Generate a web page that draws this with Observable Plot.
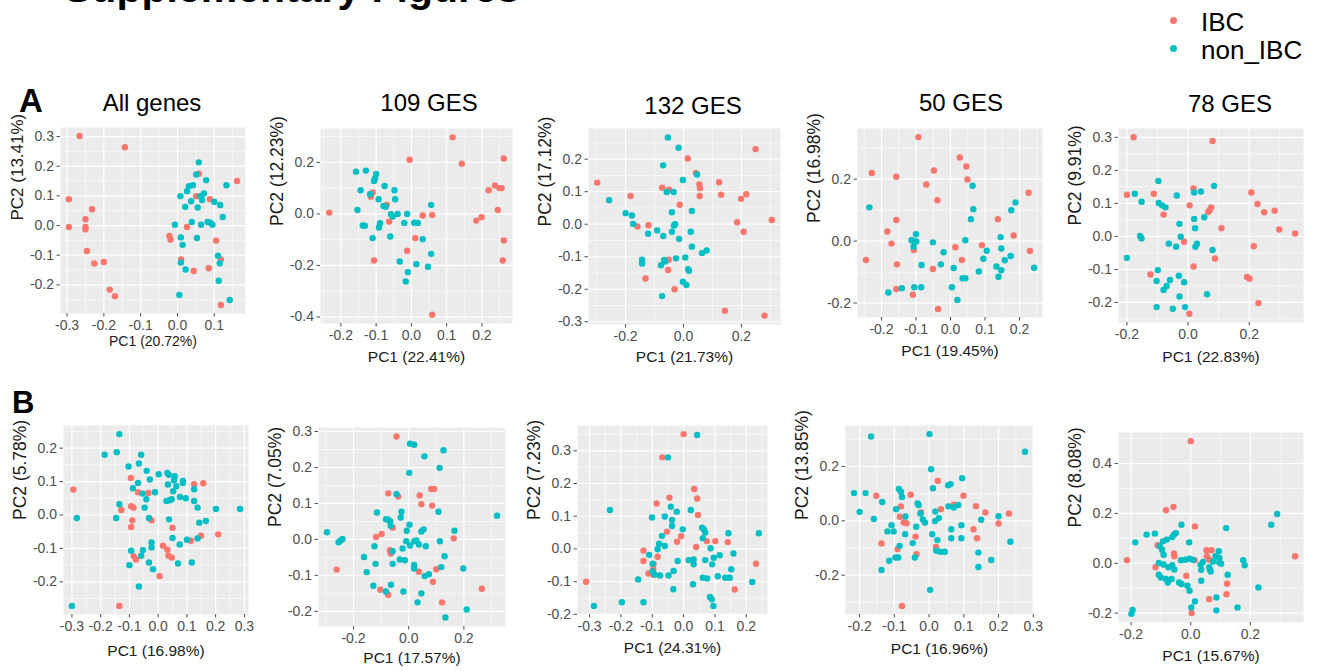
<!DOCTYPE html>
<html>
<head>
<meta charset="utf-8">
<script src="https://cdn.jsdelivr.net/npm/d3@7"></script>
<script src="https://cdn.jsdelivr.net/npm/@observablehq/plot@0.6"></script>
<style>
  html, body { margin: 0; padding: 0; background: #fff; }
  #page { position: relative; width: 1317px; height: 671px; overflow: hidden; font-family: 'Liberation Sans', Arial, sans-serif; }
  .abs { position: absolute; white-space: nowrap; line-height: 1; }
</style>
</head>
<body>
<div id="page"></div>
<script>
// ---------------- DATA (PC1, PC2) ----------------
const groups = ["IBC", "non_IBC"];

const A1_IBC = [[-0.266,0.302],[-0.143,0.264],[-0.295,0.089],[-0.232,0.055],[-0.295,-0.005],[-0.25,0.021],[-0.25,-0.005],[-0.25,-0.013],[-0.246,-0.086],[-0.226,-0.128],[-0.2,-0.123],[-0.184,-0.216],[-0.17,-0.238],[-0.022,-0.035],[-0.019,-0.047],[0.026,-0.005],[0.058,0.175],[0.051,0.099],[0.088,0.089],[0.01,-0.114],[0.044,-0.153],[0.085,-0.144],[0.105,-0.051],[0.118,-0.114],[0.118,-0.268],[0.162,0.15]];
const A1_non = [[0.058,0.213],[0.051,0.172],[0.078,0.153],[0.042,0.136],[0.031,0.133],[0.133,0.136],[0.008,0.099],[0.026,0.116],[0.072,0.108],[0.062,0.099],[0.037,0.082],[0.021,0.063],[0.055,0.061],[0.067,0.086],[0.1,0.08],[0.116,0.069],[0.123,0.029],[-0.007,0.003],[0.039,0.012],[0.064,0.003],[0.082,0.012],[0.089,0.01],[0.095,0.003],[0.053,-0.042],[0.009,-0.04],[0.014,-0.065],[0.11,-0.102],[0.009,-0.125],[0.022,-0.148],[0.115,-0.127],[0.112,-0.186],[0.005,-0.234],[0.142,-0.251]];

const A2_IBC = [[-0.233,0.005],[0.117,0.297],[0.143,0.195],[0.262,0.215],[-0.005,0.21],[-0.11,0.083],[-0.115,0.067],[-0.07,0.035],[-0.063,-0.03],[0.032,-0.006],[0.059,-0.004],[0.011,-0.094],[-0.012,-0.143],[-0.106,-0.181],[0.059,-0.391],[0.237,0.11],[0.219,0.092],[0.25,0.1],[0.256,0.1],[0.245,0.015],[0.184,-0.026],[0.199,-0.013],[0.262,-0.103],[0.259,-0.181]];
const A2_non = [[-0.157,0.164],[-0.129,0.168],[-0.1,0.155],[-0.103,0.138],[-0.106,0.128],[-0.144,0.092],[-0.117,0.076],[-0.076,0.108],[-0.048,0.092],[-0.093,0.057],[-0.046,0.057],[-0.079,0.031],[-0.073,0.028],[-0.153,0.015],[-0.058,-0.001],[-0.053,-0.01],[-0.039,0],[-0.012,0],[0.056,0.035],[-0.138,-0.045],[-0.132,-0.046],[-0.089,-0.036],[-0.092,-0.053],[-0.02,-0.035],[0.008,-0.034],[0.018,-0.035],[-0.06,-0.088],[-0.11,-0.094],[0.032,-0.098],[0.056,-0.155],[-0.033,-0.185],[0.014,-0.195],[0.047,-0.205],[-0.01,-0.226],[-0.016,-0.262]];

const A3_IBC = [[-0.298,0.128],[-0.183,0.087],[-0.159,-0.007],[-0.121,-0.003],[-0.131,-0.167],[-0.074,0.112],[-0.05,0.106],[-0.013,0.06],[-0.051,-0.109],[-0.053,-0.141],[-0.031,-0.2],[0.015,0.202],[0.043,0.158],[0.055,0.122],[0.057,0.111],[0.056,0.087],[0.123,0.129],[0.13,0.091],[0.249,0.231],[0.217,0.092],[0.199,0.078],[0.185,0.006],[0.208,-0.023],[0.305,0.013],[0.143,-0.266],[0.28,-0.281]];
const A3_non = [[-0.054,0.267],[-0.017,0.235],[-0.07,0.181],[-0.002,0.136],[0.047,0.153],[-0.257,0.074],[-0.058,0.099],[-0.034,0.099],[-0.2,0.034],[-0.178,0.027],[-0.174,0.001],[-0.122,-0.029],[-0.091,-0.019],[-0.07,-0.036],[-0.04,0.037],[0.029,0.041],[-0.033,-0.004],[-0.029,0],[-0.04,-0.023],[-0.015,-0.045],[0.025,-0.023],[0.029,-0.069],[-0.143,-0.109],[-0.143,-0.121],[-0.067,-0.11],[-0.078,-0.126],[-0.063,-0.115],[-0.026,-0.105],[0.006,-0.102],[0.016,-0.138],[0.019,-0.143],[0.064,-0.089],[0.08,-0.081],[-0.002,-0.177],[0.01,-0.187],[-0.074,-0.221]];

const A4_IBC = [[-0.093,0.336],[-0.228,0.22],[-0.157,0.208],[-0.048,0.228],[-0.07,0.183],[-0.038,0.132],[0.027,0.27],[0.046,0.241],[0.049,0.199],[-0.157,0.068],[-0.183,0.031],[-0.171,-0.008],[-0.245,-0.061],[-0.155,-0.075],[-0.157,-0.155],[-0.106,-0.029],[-0.109,-0.173],[-0.051,-0.09],[-0.036,-0.219],[0.014,-0.02],[0.033,-0.061],[0.091,-0.013],[0.137,0.071],[0.183,0.018],[0.226,0.156],[0.23,-0.032]];
const A4_non = [[-0.235,0.109],[0.064,0.179],[0.066,0.103],[0.059,0.071],[0.176,0.1],[0.188,0.125],[-0.1,0.022],[-0.113,0.003],[-0.105,-0.001],[-0.099,-0.001],[-0.107,-0.018],[-0.051,-0.004],[0.043,0.003],[-0.02,-0.036],[-0.028,-0.075],[-0.084,-0.077],[0.009,-0.087],[-0.085,-0.149],[-0.141,-0.152],[-0.18,-0.166],[-0.105,-0.149],[0.004,-0.149],[0.02,-0.19],[0.035,-0.12],[0.043,-0.12],[0.082,-0.098],[0.095,-0.057],[0.105,-0.031],[0.145,0.013],[0.147,-0.024],[0.133,-0.082],[0.139,-0.115],[0.147,-0.094],[0.157,-0.062],[0.174,-0.048],[0.242,-0.086]];

const A5_IBC = [[-0.178,0.3],[0.08,0.289],[-0.2,0.126],[-0.112,0.129],[-0.08,0.066],[0.018,0.145],[0.005,0.094],[0.076,0.088],[0.071,0.08],[0.066,0.074],[0.109,0.025],[-0.013,-0.016],[0.088,-0.067],[0.018,-0.091],[-0.123,-0.115],[0.004,-0.234],[0.207,0.133],[0.227,0.098],[0.249,0.073],[0.283,0.078],[0.298,0.021],[0.35,0.009],[0.215,-0.03],[0.193,-0.123],[0.201,-0.128],[0.23,-0.202]];
const A5_non = [[-0.097,0.168],[0.085,0.153],[-0.174,0.129],[-0.152,0.105],[-0.037,0.124],[0.02,0.133],[0.042,0.136],[-0.096,0.101],[-0.085,0.094],[-0.074,0.088],[-0.028,0.038],[0.02,0.053],[0.053,0.058],[0.023,0.025],[-0.157,0.001],[-0.152,-0.006],[-0.063,-0.022],[-0.039,-0.031],[-0.024,-0.001],[0.029,-0.022],[0.024,-0.031],[0.08,-0.041],[-0.2,-0.065],[-0.099,-0.102],[-0.103,-0.135],[-0.07,-0.15],[-0.08,-0.162],[-0.059,-0.132],[-0.03,-0.119],[-0.013,-0.139],[-0.028,-0.182],[0.062,-0.175],[-0.103,-0.214],[-0.05,-0.219],[-0.01,-0.214]];

const B1_IBC = [[-0.295,0.076],[-0.095,0.111],[-0.07,0.068],[-0.034,0.066],[-0.128,0.015],[-0.094,0.026],[-0.086,0.022],[-0.09,-0.016],[-0.094,-0.036],[-0.023,-0.016],[0.05,-0.038],[-0.085,-0.123],[-0.077,-0.133],[0.017,-0.092],[0.032,-0.104],[0.036,-0.122],[0.047,-0.127],[0.005,-0.183],[-0.135,-0.272],[0.125,0.092],[0.157,0.095],[0.114,-0.077],[0.149,-0.062],[0.209,-0.058]];
const B1_non = [[-0.135,0.242],[-0.186,0.18],[-0.144,0.188],[-0.059,0.18],[-0.067,0.154],[-0.103,0.145],[-0.04,0.132],[0.002,0.122],[0.032,0.126],[0.037,0.12],[-0.029,0.106],[0.058,0.116],[0.055,0.104],[0.086,0.102],[0.086,0.096],[0.034,0.091],[0.063,0.086],[-0.07,0.096],[-0.088,0.08],[-0.054,0.064],[-0.011,0.068],[0.052,0.071],[0.125,0.077],[0.029,0.042],[0.04,0.044],[0.047,0.047],[0.076,0.054],[0.096,0.05],[0.125,0.042],[-0.041,0.047],[-0.135,0.032],[-0.047,0.022],[0.137,0.022],[0.201,0.018],[0.285,0.018],[-0.283,-0.009],[-0.146,-0.009],[-0.032,-0.009],[0.038,-0.013],[0.143,-0.023],[0.166,-0.018],[0.05,-0.069],[-0.023,-0.082],[-0.023,-0.097],[0.075,-0.088],[0.1,-0.074],[0.137,-0.07],[-0.094,-0.107],[-0.053,-0.105],[-0.059,-0.122],[-0.032,-0.142],[-0.018,-0.162],[0.069,-0.145],[0.117,-0.142],[-0.1,-0.15],[-0.067,-0.214],[-0.3,-0.272]];

const B2_IBC = [[-0.044,0.286],[-0.074,0.128],[-0.038,0.119],[0.04,0.122],[0.046,0.098],[0.082,0.14],[0.092,0.14],[0.085,0.094],[-0.118,0.007],[-0.098,0.015],[-0.058,0.033],[-0.068,-0.03],[-0.065,-0.039],[-0.261,-0.084],[-0.103,-0.14],[-0.074,-0.154],[0.037,-0.09],[0.088,-0.118],[0.1,-0.083],[0.163,0.003],[0.121,-0.175],[0.265,-0.137]];
const B2_non = [[0.005,0.266],[0.02,0.263],[0.057,0.231],[0.126,0.248],[0.112,0.199],[0.002,0.185],[-0.044,0.126],[-0.115,0.075],[-0.026,0.077],[-0.029,0.061],[0.108,0.077],[0.32,0.066],[-0.082,0.056],[-0.074,0.055],[-0.067,0.05],[-0.065,0.038],[0.003,0.041],[-0.007,0.024],[0.046,0.022],[0.054,0.028],[-0.296,0.02],[-0.254,-0.008],[-0.247,-0.003],[-0.24,0.001],[-0.124,-0.019],[-0.009,-0.005],[0.005,-0.017],[0.02,-0.005],[0.028,-0.003],[0.037,-0.014],[0.062,-0.019],[0.113,-0.005],[0.166,0.024],[-0.022,-0.025],[-0.058,-0.033],[-0.162,-0.049],[-0.032,-0.056],[-0.014,-0.058],[-0.12,-0.068],[-0.058,-0.068],[0.13,-0.047],[-0.152,-0.091],[0.02,-0.071],[0.02,-0.081],[0.058,-0.102],[0.073,-0.097],[0.118,-0.077],[0.198,-0.081],[-0.128,-0.129],[-0.064,-0.126],[-0.083,-0.145],[-0.019,-0.145],[0.046,-0.15],[0.032,-0.175],[0.21,-0.195],[0.133,-0.217]];

const B3_IBC = [[0.0,0.351],[-0.068,0.28],[0.034,0.183],[0.043,0.154],[-0.045,0.157],[-0.086,0.139],[0.046,0.104],[-0.053,0.053],[-0.008,0.039],[-0.021,0.022],[0.074,0.024],[0.101,0.024],[0.141,0.021],[0.04,0.006],[-0.128,-0.005],[-0.128,-0.037],[-0.083,-0.024],[-0.096,-0.046],[-0.097,-0.061],[-0.112,-0.075],[-0.096,-0.079],[-0.311,-0.1],[0.163,-0.124],[0.231,-0.045]];
const B3_non = [[0.043,0.348],[-0.05,0.28],[-0.235,0.119],[-0.041,0.129],[-0.022,0.114],[0.023,0.119],[-0.101,0.096],[-0.06,0.099],[-0.037,0.089],[-0.037,0.07],[-0.003,0.06],[0.059,0.065],[0.065,0.06],[0.069,0.05],[0.061,0.033],[-0.069,0.04],[-0.078,0.016],[-0.083,-0.001],[-0.06,0.009],[0.24,0.048],[0.143,0.048],[0.086,0.002],[-0.11,-0.018],[-0.019,-0.037],[0.016,-0.034],[0.032,-0.032],[0.032,-0.047],[0.069,-0.034],[0.091,-0.047],[0.096,-0.027],[0.115,-0.019],[0.159,-0.014],[0.152,-0.062],[-0.099,-0.045],[-0.099,-0.069],[-0.092,-0.078],[-0.075,-0.081],[-0.048,-0.081],[-0.032,-0.067],[-0.145,-0.093],[0.061,-0.088],[0.075,-0.09],[0.109,-0.083],[0.133,-0.088],[0.147,-0.088],[0.03,-0.108],[0.219,-0.101],[-0.033,-0.123],[0.084,-0.147],[0.09,-0.154],[0.095,-0.174],[-0.286,-0.174],[-0.197,-0.163],[-0.128,-0.163]];

const B4_IBC = [[-0.152,0.092],[-0.053,0.096],[-0.081,0.053],[-0.084,0.015],[-0.073,-0.006],[-0.065,-0.009],[-0.023,0.031],[-0.039,-0.058],[-0.137,-0.083],[-0.091,-0.104],[-0.036,-0.123],[0.025,0.147],[0.034,0.043],[0.02,-0.096],[0.071,0.059],[0.099,0.092],[0.135,0.054],[0.162,0.031],[0.128,-0.031],[0.138,-0.064],[0.2,-0.01],[0.23,0.027],[-0.078,-0.313]];
const B4_non = [[-0.167,0.31],[0.001,0.319],[0.276,0.254],[0.006,0.19],[0.095,0.157],[0.011,0.12],[0.055,0.131],[0.062,0.135],[-0.216,0.102],[-0.183,0.102],[-0.135,0.069],[-0.2,0.033],[-0.159,0.007],[-0.087,0.117],[-0.081,0.107],[-0.078,0.088],[-0.095,0.043],[-0.033,0.064],[-0.03,0.058],[-0.025,0.027],[-0.068,0.016],[-0.018,0.005],[-0.012,-0.006],[0.018,0.034],[0.028,0.01],[0.017,-0.001],[0.056,0.053],[0.071,0.049],[0.084,0.058],[0.15,0.004],[0.2,0.017],[-0.108,-0.016],[-0.12,-0.039],[-0.102,-0.039],[-0.069,-0.049],[-0.037,-0.022],[0.093,-0.016],[0.064,-0.031],[0.064,-0.064],[0.093,-0.064],[0.009,-0.049],[0.024,-0.071],[-0.085,-0.092],[-0.047,-0.082],[0.021,-0.11],[0.033,-0.114],[0.045,-0.114],[0.142,-0.117],[0.234,-0.077],[-0.097,-0.135],[-0.089,-0.135],[-0.041,-0.135],[-0.115,-0.147],[-0.137,-0.181],[0.142,-0.17],[0.179,-0.144],[0.003,-0.254]];

const B5_IBC = [[0.0,0.49],[-0.083,0.213],[-0.058,0.226],[0.014,0.148],[-0.111,0.072],[-0.056,0.039],[-0.055,0.028],[-0.214,0.012],[-0.118,-0.016],[-0.015,-0.05],[0.013,0.012],[0.053,0.052],[0.07,0.052],[0.054,0.028],[0.062,0.014],[0.122,-0.082],[0.12,-0.124],[0.062,-0.144],[0.003,-0.2],[0.35,0.028]];
const B5_non = [[0.29,0.198],[0.27,0.155],[-0.031,0.155],[0.119,0.141],[-0.148,0.115],[-0.12,0.119],[-0.186,0.084],[-0.093,0.088],[-0.08,0.095],[-0.062,0.105],[-0.056,0.115],[-0.05,0.121],[-0.005,0.084],[-0.104,0.068],[-0.096,0.054],[-0.091,0.034],[-0.107,0.001],[-0.091,-0.005],[-0.075,-0.016],[-0.062,-0.008],[-0.055,-0.025],[-0.033,0.012],[-0.018,0.014],[-0.004,0.018],[0.008,0.014],[0.041,0.005],[0.062,-0.016],[0.064,-0.025],[0.075,0.007],[0.083,0.028],[0.094,0.048],[0.096,0.021],[0.096,0.003],[0.102,-0.002],[0.067,-0.033],[0.033,-0.006],[0.035,-0.026],[0.035,-0.07],[0.124,-0.046],[0.176,0.012],[0.181,-0.008],[0.227,-0.097],[-0.107,-0.046],[-0.1,-0.057],[-0.083,-0.063],[-0.077,-0.077],[-0.064,-0.063],[-0.039,-0.077],[-0.031,-0.083],[-0.011,-0.09],[-0.004,-0.11],[0.014,-0.153],[0.002,-0.177],[0.086,-0.137],[0.086,-0.189],[0.157,-0.177],[-0.195,-0.187],[-0.199,-0.203]];

// titles, axis labels and tick values
const panelTitles = ["All genes", "109 GES", "132 GES", "50 GES", "78 GES"];
const xLabels = ["PC1 (20.72%)","PC1 (22.41%)","PC1 (21.73%)","PC1 (19.45%)","PC1 (22.83%)","PC1 (16.98%)","PC1 (17.57%)","PC1 (24.31%)","PC1 (16.96%)","PC1 (15.67%)"];
const yLabels = ["PC2 (13.41%)","PC2 (12.23%)","PC2 (17.12%)","PC2 (16.98%)","PC2 (9.91%)","PC2 (5.78%)","PC2 (7.05%)","PC2 (7.23%)","PC2 (13.85%)","PC2 (8.08%)"];
const xTickValues = [
  [-0.3,-0.2,-0.1,0,0.1], [-0.2,-0.1,0,0.1,0.2], [-0.2,0,0.2], [-0.2,-0.1,0,0.1,0.2], [-0.2,0,0.2],
  [-0.3,-0.2,-0.1,0,0.1,0.2,0.3], [-0.2,0,0.2], [-0.3,-0.2,-0.1,0,0.1,0.2], [-0.2,-0.1,0,0.1,0.2,0.3], [-0.2,0,0.2]
];
const yTickValues = [
  [-0.2,-0.1,0,0.1,0.2,0.3], [-0.4,-0.2,0,0.2], [-0.3,-0.2,-0.1,0,0.1,0.2], [-0.2,0,0.2], [-0.2,-0.1,0,0.1,0.2,0.3],
  [-0.2,-0.1,0,0.1,0.2], [-0.2,-0.1,0,0.1,0.2,0.3], [-0.2,-0.1,0,0.1,0.2,0.3], [-0.2,0,0.2], [-0.2,0,0.2,0.4]
];
const ibcSets = [A1_IBC, A2_IBC, A3_IBC, A4_IBC, A5_IBC, B1_IBC, B2_IBC, B3_IBC, B4_IBC, B5_IBC];
const nonSets = [A1_non, A2_non, A3_non, A4_non, A5_non, B1_non, B2_non, B3_non, B4_non, B5_non];

// ---------------- LAYOUT (pixel frames of each panel) ----------------
const frames = [
  [60,127,245,313],[320,128,512,323],[588,128,780,324],[857,128,1042,317],[1118,128,1303,322],
  [63,425,248,614],[318,427,505,626],[577,425,767,614],[845,425,1033,614],[1118,432,1303,622]
];
const xTitleOffsets = [32,38,37,38,39,41,36,38,39,38];
const xTitleSizes = [14,15.5,15.5,15.5,15.5,15.5,15.5,15.5,15.5,15.5];
const yTitleSizes = [17,17.5,17.5,17.5,17.5,17.5,17.5,17.5,17.5,17.5];
const titlePos = [[152,111],[429,111],[693,114],[961,111],[1230,112]];
const COLORS = ["#F8766D", "#00BFC4"];
const FONT = "'Liberation Sans', Arial, Helvetica, sans-serif";

const page = document.getElementById("page");
function addText(txt, css) {
  const d = document.createElement("div");
  d.className = "abs";
  d.textContent = txt;
  Object.assign(d.style, css);
  page.appendChild(d);
  return d;
}

// header (cut off at top, as in the source) and panel letters
addText("Supplementary Figures", {left: "64px", top: (3 - 0.8465*41) + "px", fontSize: "41px", fontWeight: "bold", color: "#000"});
addText("A", {left: "19px", top: (112 - 0.8465*33) + "px", fontSize: "33px", fontWeight: "bold", color: "#000"});
addText("B", {left: "12px", top: (413 - 0.8465*31) + "px", fontSize: "31px", fontWeight: "bold", color: "#000"});

// panel titles
panelTitles.forEach((t, i) => {
  const [cx, by] = titlePos[i];
  const d = addText(t, {left: cx + "px", top: (by - 0.8465*24) + "px", fontSize: "24px", color: "#000"});
  d.style.transform = "translateX(-50%)";
});

// legend
const legendY = [20, 48];
groups.forEach((g, i) => {
  const dot = document.createElement("div");
  dot.className = "abs";
  Object.assign(dot.style, {left: (1173 - 3.5) + "px", top: (legendY[i] - 3.5) + "px", width: "7px", height: "7px", borderRadius: "50%", background: COLORS[i]});
  page.appendChild(dot);
  addText(g, {left: "1201px", top: (legendY[i] + 11 - 0.8465*26) + "px", fontSize: "26px", color: "#000"});
});

// scatter panels
function expand(vals) {
  const lo = d3.min(vals), hi = d3.max(vals), e = (hi - lo) * 0.05;
  return [lo - e, hi + e];
}
function minorTicks(ticks, dom) {
  const s = ticks[1] - ticks[0];
  const out = [];
  for (let k = -3; k < ticks.length + 3; k++) {
    const v = ticks[0] + (k + 0.5) * s;
    if (v >= dom[0] && v <= dom[1]) out.push(v);
  }
  return out;
}

for (let i = 0; i < 10; i++) {
  const [L, T, R, B] = frames[i];
  const mL = 62, mT = 6, mR = 6, mB = 54;
  const pts = [
    ...ibcSets[i].map(([x, y]) => ({x, y, g: "IBC"})),
    ...nonSets[i].map(([x, y]) => ({x, y, g: "non_IBC"}))
  ];
  const xd = expand(pts.map(d => d.x));
  const yd = expand(pts.map(d => d.y));
  const fmt = d => d.toFixed(1);
  const svg = Plot.plot({
    width: R - L + mL + mR,
    height: B - T + mT + mB,
    marginLeft: mL, marginTop: mT, marginRight: mR, marginBottom: mB,
    x: {domain: xd, label: null},
    y: {domain: yd, label: null},
    color: {domain: groups, range: COLORS},
    style: {fontFamily: FONT, color: "#4d4d4d", background: "transparent", overflow: "visible"},
    marks: [
      Plot.frame({fill: "#EBEBEB", stroke: "none"}),
      Plot.ruleX(minorTicks(xTickValues[i], xd), {stroke: "#ffffff", strokeWidth: 0.6}),
      Plot.ruleY(minorTicks(yTickValues[i], yd), {stroke: "#ffffff", strokeWidth: 0.6}),
      Plot.ruleX(xTickValues[i], {stroke: "#ffffff", strokeWidth: 1.2}),
      Plot.ruleY(yTickValues[i], {stroke: "#ffffff", strokeWidth: 1.2}),
      Plot.axisX({ticks: xTickValues[i], tickFormat: fmt, tickSize: 3.5, tickPadding: 3, fontSize: 14, label: null}),
      Plot.axisY({ticks: yTickValues[i], tickFormat: fmt, tickSize: 3.5, tickPadding: 3, fontSize: 14, label: null}),
      Plot.dot(pts, {x: "x", y: "y", fill: "g", r: 3.2}),
      Plot.text([xLabels[i]], {frameAnchor: "bottom", dy: xTitleOffsets[i], text: d => d, fontSize: xTitleSizes[i], fill: "#1a1a1a"}),
      Plot.text([yLabels[i]], {frameAnchor: "left", dx: -43, rotate: -90, text: d => d, fontSize: yTitleSizes[i], fill: "#1a1a1a"})
    ]
  });
  const wrap = document.createElement("div");
  wrap.className = "abs";
  wrap.style.left = (L - mL) + "px";
  wrap.style.top = (T - mT) + "px";
  wrap.appendChild(svg);
  page.appendChild(wrap);
}
</script>
</body>
</html>
